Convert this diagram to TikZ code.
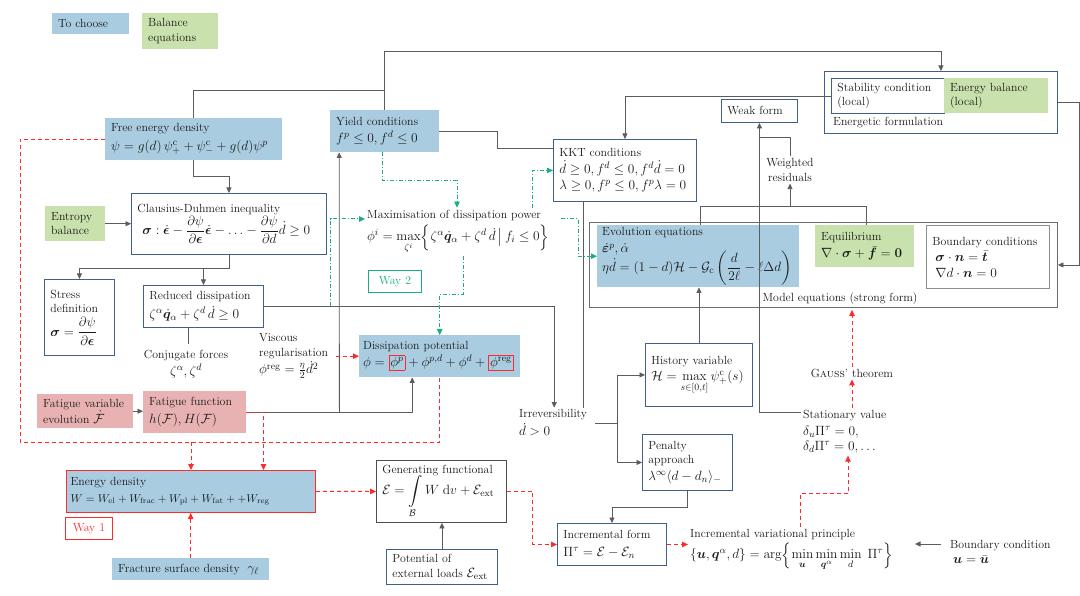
\RequirePackage{fix-cm}
\documentclass[tikz,border=0pt]{standalone}
\usepackage{amsmath,bm}
\DeclareMathSizes{11.8}{13.4}{9.6}{7.4}
\usetikzlibrary{arrows.meta}
\definecolor{blu}{HTML}{A9CCE1}
\definecolor{grn}{HTML}{C9E1AC}
\definecolor{pnk}{HTML}{E8B2B2}
\definecolor{bord}{HTML}{3F5F8C}
\definecolor{lin}{HTML}{5C5C5C}
\definecolor{rd}{HTML}{FF2B2B}
\definecolor{tl}{HTML}{1BAE86}
\definecolor{txt}{HTML}{1A1A1A}
\setlength{\fboxsep}{1pt}
\setlength{\fboxrule}{0.8pt}
\begin{document}
\begin{tikzpicture}[x=1pt,y=-1pt,
  every node/.style={font=\fontsize{11.8}{14.5}\selectfont, text=txt},
  boxb/.style={inner xsep=6pt, inner ysep=2pt, align=left, anchor=north west},
  bbox/.style={boxb, fill=blu},
  gbox/.style={boxb, fill=grn},
  pbox/.style={boxb, fill=pnk},
  wbox/.style={boxb, draw=bord, line width=0.9pt, fill=white},
  txtn/.style={inner sep=2pt, align=left},
  ln/.style={draw=lin, line width=0.8pt},
  ar/.style={ln, -{Triangle[length=5.5pt,width=5pt]}},
  rdash/.style={draw=rd, line width=1pt, dash pattern=on 4pt off 3pt},
  rarr/.style={rdash, -{Triangle[length=6pt,width=5.5pt]}},
  gdash/.style={draw=tl, line width=1pt, dash pattern=on 4pt off 2pt on 1pt off 2pt, -{Triangle[length=6pt,width=5.5pt]}}
]
\fill[white] (0,0) rectangle (1080,596);
\useasboundingbox (0,0) rectangle (1080,596);

% legend
\node[bbox, text width=65pt, minimum height=21pt] (tochoose) at (52,13) {To choose};
\node[gbox, text width=64pt, minimum height=36pt] (balance) at (142,13) {Balance\\equations};

% outer frames
\node[boxb, draw=bord, line width=0.9pt, minimum width=233pt, minimum height=62pt] (energ) at (824,71) {};
\node[boxb, draw=lin!90!white, line width=0.9pt, minimum width=468pt, minimum height=85pt] (model) at (589,222) {};
\node[txtn, anchor=west] (elab) at (831,123) {Energetic formulation};
\node[txtn] (mlab) at (840,299) {Model equations (strong form)};

% boxes
\node[bbox, text width=165pt, minimum height=42pt] (free) at (105,118) {Free energy density\\[4pt]$\psi = g(d)\,\psi^{\mathrm c}_+ + \psi^{\mathrm c}_- + g(d)\psi^p$};
\node[bbox, text width=97pt, minimum height=42pt] (yield) at (330,110) {Yield conditions\\[3pt]$f^p \le 0, f^d \le 0$};
\node[wbox, text width=131pt, minimum height=62pt] (kkt) at (553,139) {KKT conditions\\[2pt]$\dot d \ge 0, f^d \le 0, f^d\dot d = 0$\\[2pt]$\lambda \ge 0, f^p \le 0, f^p\lambda = 0$};
\node[wbox, text width=101pt, minimum height=35pt] (stab) at (831,78) {Stability condition\\(local)};
\node[gbox, text width=92pt, minimum height=35pt] (enbal) at (944,78) {Energy balance\\(local)};
\node[wbox, text width=64pt, minimum height=23pt] (weak) at (721,99) {Weak form};
\node[bbox, inner xsep=5pt, text width=192pt, minimum height=62pt] (evol) at (597,225) {Evolution equations\\[3pt]$\dot{\boldsymbol\varepsilon}^p, \dot\alpha$\\[-6pt]$\displaystyle\eta\dot d = (1-d)\mathcal H - \mathcal G_{\mathrm c}\left(\frac{d}{2\ell} - \ell\Delta d\right)$};
\node[gbox, text width=87pt, minimum height=42pt] (equil) at (815,225) {Equilibrium\\[3pt]$\nabla\cdot\boldsymbol\sigma + \bar{\boldsymbol f} = \boldsymbol 0$};
\node[boxb, draw=lin!70!white, line width=0.9pt, text width=111pt, minimum height=63pt] (bc) at (926,225) {Boundary conditions\\[2pt]\hspace*{3pt}$\boldsymbol\sigma\cdot\boldsymbol n = \bar{\boldsymbol t}$\\[1pt]\hspace*{3pt}$\nabla d\cdot\boldsymbol n = 0$};
\node[wbox, text width=183pt, minimum height=61pt] (claus) at (131,193) {Clausius-Duhmen inequality\\\hspace*{5pt}$\displaystyle\boldsymbol\sigma : \dot{\boldsymbol\epsilon} - \frac{\partial\psi}{\partial\boldsymbol\epsilon}\dot{\boldsymbol\epsilon} - \ldots - \frac{\partial\psi}{\partial d}\dot d \ge 0$};
\node[gbox, text width=48pt, minimum height=35pt] (entropy) at (45,206) {Entropy\\balance};
\node[wbox, text width=58pt, minimum height=76pt] (stress) at (44,279) {Stress\\definition\\[4pt]$\displaystyle\boldsymbol\sigma = \frac{\partial\psi}{\partial\boldsymbol\epsilon}$};
\node[wbox, text width=108pt, minimum height=42pt] (reduced) at (143,285) {Reduced dissipation\\[3pt]$\zeta^\alpha\dot{\boldsymbol q}_\alpha + \zeta^d\,\dot d \ge 0$};
\node[boxb, draw=tl, line width=0.9pt, align=center, text=tl, text width=41pt, minimum height=22pt] (way2) at (368,270) {\textcolor{tl}{Way 2}};
\node[bbox, inner xsep=4pt, text width=153pt, minimum height=42pt] (diss) at (359,335) {Dissipation potential\\[2pt]$\phi = \fcolorbox{rd}{blu}{$\phi^p$} + \phi^{p,d} + \phi^d + \fcolorbox{rd}{blu}{$\phi^{\mathrm{reg}}$}$};
\node[wbox, text width=95pt, minimum height=63pt] (hist) at (645,343) {History variable\\[2pt]$\displaystyle\mathcal H = \max_{s\in[0,t]}\psi^{\mathrm c}_+(s)$};
\node[wbox, text width=78pt, minimum height=56pt] (pen) at (642,434) {Penalty\\approach\\[2pt]$\lambda^\infty\langle d - d_n\rangle_-$};
\node[wbox, text width=97pt, minimum height=42pt] (incr) at (557,523) {Incremental form\\[3pt]$\Pi^\tau = \mathcal E - \mathcal E_n$};
\node[pbox, text width=84pt, minimum height=34pt] (fatvar) at (37,394) {Fatigue variable\\evolution $\dot{\mathcal F}$};
\node[pbox, text width=91pt, minimum height=42pt] (fatfun) at (143,391) {Fatigue function\\[3pt]$h(\mathcal F), H(\mathcal F)$};
\node[bbox, draw=rd, line width=1pt, inner xsep=4pt, text width=241pt, minimum height=42pt] (energy) at (66,470) {Energy density\\[2pt]{\fontsize{11.3}{14}\selectfont$W = W_{\mathrm{el}} + W_{\mathrm{frac}} + W_{\mathrm{pl}} + W_{\mathrm{fat}} + + W_{\mathrm{reg}}$}};
\node[boxb, draw=rd, line width=0.9pt, align=center, text width=35pt, minimum height=22pt] (way1) at (65,517) {\textcolor{rd}{Way 1}};
\node[bbox, text width=145pt, minimum height=22pt] (frac) at (112,558) {Fracture surface density\ \ $\gamma_\ell$};
\node[boxb, draw=lin!85!black, line width=0.9pt, fill=white, text width=118pt, minimum height=62pt] (gen) at (376,460) {Generating functional\\[-2pt]$\displaystyle\mathcal E = \int\limits_{\mathcal B} W\;\mathrm dv + \mathcal E_{\mathrm{ext}}$};
\node[wbox, text width=99pt, minimum height=35pt] (pot) at (386,549) {Potential of\\external loads $\mathcal E_{\mathrm{ext}}$};

% free text nodes
\node[txtn, align=center] (wres) at (790,170) {Weighted\\residuals};
\node[txtn, align=center] (conj) at (186,364) {Conjugate forces\\[2pt]$\zeta^\alpha,\zeta^d$};
\node[txtn, anchor=west, text width=76pt, inner xsep=1pt] (visc) at (258,356) {Viscous\\regularisation\\[2pt]$\phi^{\mathrm{reg}} = \frac{\eta}{2}\dot d^2$};
\node[txtn, anchor=west, text width=192pt] (maxi) at (365,232) {Maximisation of dissipation power\\[3pt]$\displaystyle\phi^i = \max_{\zeta^i}\Bigl\{\zeta^\alpha\dot{\boldsymbol q}_\alpha + \zeta^d\,\dot d\,\big|\,f_i\le 0\Bigr\}$};
\node[txtn, anchor=west, text width=70pt] (irr) at (517,423) {Irreversibility\\[2pt]$\dot d > 0$};
\node[txtn, anchor=west, text width=215pt] (ivp) at (688,550) {Incremental variational principle\\[2pt]$\displaystyle\{\boldsymbol u, \boldsymbol q^\alpha, d\} = \arg\Bigl\{\min_{\boldsymbol u}\min_{\boldsymbol q^\alpha}\min_{d}\;\Pi^\tau\Bigr\}$};
\node[txtn, anchor=west, text width=95pt] (stat) at (801,432) {Stationary value\\[2pt]$\delta_u\Pi^\tau = 0,$\\[1pt]$\delta_d\Pi^\tau = 0, \ldots$};
\node[txtn] (gauss) at (852,373) {G\textsc{auss}' theorem};
\node[txtn, anchor=west] (bcu) at (948,552) {Boundary condition\\[1pt]\hspace*{3pt}$\boldsymbol u = \bar{\boldsymbol u}$};

% gray connectors
\draw[ln] (free.north) -- ++(0,-28) -| (yield.north);
\draw[ar] (yield.north) -- ++(0,-59) -| (energ.north);
\draw[ar] (free.south) -- ++(0,16) -| (claus.north);
\draw[ar] (entropy.east) -- (claus.west |- entropy.east);
\draw[ln] (claus.south) -- ++(0,14) coordinate (ce);
\draw[ar] (ce) -| (stress.north);
\draw[ar] (ce) -| (reduced.north);
\draw[ln] ([xshift=-15pt]reduced.south) -- ++(0,16);
\draw[ar] (reduced.east) -| (irr.north);
\draw[ln] (yield.east) -- ++(58,0) |- ([yshift=22pt]kkt.west);
\draw[ar] (stab.west) -| (kkt.north);
\draw[ln] ([xshift=-41.5pt]kkt.south) -- ([xshift=-41.5pt]kkt.south |- irr.north);
\draw[ar] (fatfun.east) -| ([xshift=-27.5pt]diss.south);
\draw[ar] ([xshift=93pt]fatfun.east) -- ([xshift=-45.5pt]yield.south);
\draw[ar] ([xshift=4pt]irr.east) -- ++(22,0) |- (hist.west);
\draw[ar] ([xshift=4pt]irr.east) -- ++(22,0) |- (pen.west);
\draw[ar] (hist.north) -- (hist.north |- evol.south);
\draw[ar] (pen.south) -- ++(0,16) -| (incr.north);
\draw[ar] (energ.east) -- ++(21,0) |- (model.east);
\draw[ar] ([yshift=20pt]stat.west) -| (weak.south);
\draw[ln] ([xshift=2pt]evol.north) -- ++(0,-19) coordinate (q1) -| ([xshift=1.5pt]equil.north);
\draw[ar] (q1 -| wres.south) -- (wres.south);
\draw[ln] (wres.north) |- ([yshift=-15pt]weak.south);
\draw[ar] ([xshift=-7pt,yshift=8pt]bcu.west) -- ++(-26,0);
\draw[ar] (pot.north) -- (pot.north |- gen.south);
\draw[ar] (fatvar.east) -- (fatfun.west |- fatvar.east);

% red dashed connectors
\coordinate (rl) at ([yshift=-65pt]diss.south);
\draw[rdash] (free.west) -- ++(-85,0) |- (rl) -- (diss.south);
\draw[rarr] (energy.north |- rl) -- (energy.north);
\draw[rarr] (fatfun.east) -| ([xshift=72.5pt]energy.north);
\draw[rarr] (frac.north) -- (frac.north |- energy.south);
\draw[rarr] (energy.east) -- (gen.west);
\draw[rarr] (gen.east) -- ++(26,0) |- (incr.west);
\draw[rarr] (incr.east) -- (ivp.west |- incr.east);
\draw[rarr] ([xshift=112pt]ivp.north west) -- ++(0,-33) -| ([xshift=47pt]stat.south west);
\draw[rarr] ([xshift=51pt]stat.north west) -- (gauss.south);
\draw[rarr, shorten >=2pt] (gauss.north) -- (gauss.north |- model.south);
\draw[rarr] (visc.east |- diss.west) -- (diss.west);

% green dash-dot connectors
\draw[gdash] ([xshift=-2.5pt]yield.south) -- ++(0,28) -| ([xshift=92pt]maxi.north west);
\draw[gdash] ([xshift=98pt]maxi.south west) -- ++(0,38) -| (diss.north);
\draw[gdash] ([yshift=13pt]maxi.east) -- ++(17,0) |- (evol.west);
\draw[gdash] ([xshift=167pt]maxi.north west) |- (kkt.west);
\draw[gdash] ([xshift=67pt]reduced.east) |- ([yshift=13pt]maxi.west);
\end{tikzpicture}
\end{document}
